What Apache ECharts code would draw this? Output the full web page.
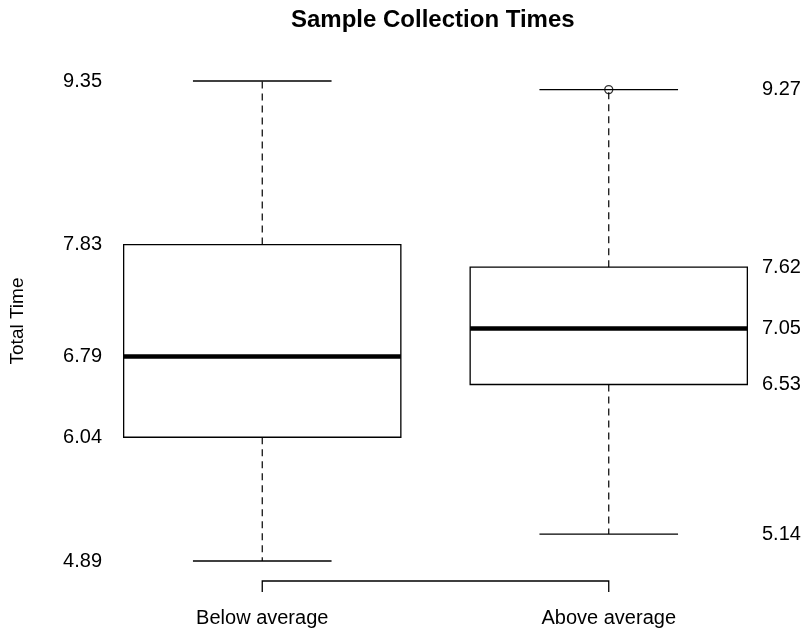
<!DOCTYPE html>
<html>
<head>
<meta charset="utf-8">
<script src="https://cdn.jsdelivr.net/npm/echarts@6/dist/echarts.min.js"></script>
<style>html,body{margin:0;padding:0;background:#fff}#c{width:804px;height:632px}</style>
</head>
<body>
<div id="c"></div>
<script>
var categories = ['Below average', 'Above average'];
var mins = [4.89, 5.14];
var q1s = [6.04, 6.53];
var medians = [6.79, 7.05];
var q3s = [7.83, 7.62];
var maxs = [9.35, 9.27];
var outliers = [[1, 9.27]];
var leftTicks = [4.89, 6.04, 6.79, 7.83, 9.35];
var rightTicks = [5.14, 6.53, 7.05, 7.62, 9.27];

var FONT = "'Liberation Sans', Arial, sans-serif";
var boxData = categories.map(function (c, i) {
  return [i, mins[i], q1s[i], medians[i], q3s[i], maxs[i]];
});

function renderBox(params, api) {
  var i = api.value(0);
  var band = api.size([1, 0])[0];
  var pMin = api.coord([i, api.value(1)]);
  var pQ1 = api.coord([i, api.value(2)]);
  var pMed = api.coord([i, api.value(3)]);
  var pQ3 = api.coord([i, api.value(4)]);
  var pMax = api.coord([i, api.value(5)]);
  var cx = pMed[0];
  var hw = band * 0.4;
  var cw = band * 0.2;
  var solid = { stroke: '#000', lineWidth: 1.3, fill: null };
  var dashed = { stroke: '#000', lineWidth: 1.2, lineDash: [7, 5], fill: null };
  return {
    type: 'group',
    children: [
      { type: 'line', shape: { x1: cx, y1: pQ3[1], x2: cx, y2: pMax[1] }, style: dashed },
      { type: 'line', shape: { x1: cx, y1: pQ1[1], x2: cx, y2: pMin[1] }, style: dashed },
      { type: 'line', shape: { x1: cx - cw, y1: pMax[1], x2: cx + cw, y2: pMax[1] }, style: solid },
      { type: 'line', shape: { x1: cx - cw, y1: pMin[1], x2: cx + cw, y2: pMin[1] }, style: solid },
      { type: 'rect', shape: { x: cx - hw, y: pQ3[1], width: hw * 2, height: pQ1[1] - pQ3[1] },
        style: { stroke: '#000', lineWidth: 1.3, fill: '#fff' } },
      { type: 'line', shape: { x1: cx - hw, y1: pMed[1], x2: cx + hw, y2: pMed[1] },
        style: { stroke: '#000', lineWidth: 4.5 } }
    ]
  };
}

function renderBracket(params, api) {
  var cs = params.coordSys;
  var x0 = api.coord([0, mins[0]])[0];
  var x1 = api.coord([categories.length - 1, mins[0]])[0];
  var yb = cs.y + cs.height + 20;
  return {
    type: 'polyline',
    shape: { points: [[x0, yb + 11], [x0, yb], [x1, yb], [x1, yb + 11]] },
    style: { stroke: '#000', lineWidth: 1.3, fill: null }
  };
}

var chart = echarts.init(document.getElementById('c'));
chart.setOption({
  animation: false,
  backgroundColor: '#fff',
  title: {
    text: 'Sample Collection Times',
    left: 286, top: 3,
    textStyle: { fontFamily: FONT, fontSize: 24, fontWeight: 'bold', color: '#000' }
  },
  grid: { left: 82, right: 22, top: 81, bottom: 71, containLabel: false },
  xAxis: {
    type: 'category',
    data: categories,
    axisLine: { show: false },
    axisTick: { show: false },
    splitLine: { show: false },
    axisLabel: { margin: 47, fontFamily: FONT, fontSize: 20, color: '#000' }
  },
  yAxis: [{
    type: 'value', min: 4.89, max: 9.35, position: 'left', offset: -21,
    name: 'Total Time', nameLocation: 'middle', nameRotate: 90, nameGap: 83,
    nameTextStyle: { fontFamily: FONT, fontSize: 19, color: '#000' },
    axisLine: { show: false }, axisTick: { show: false }, splitLine: { show: false },
    axisLabel: { customValues: leftTicks, margin: 8, fontFamily: FONT, fontSize: 20, color: '#000',
      formatter: function (v) { return v.toFixed(2); } }
  }, {
    type: 'value', min: 4.89, max: 9.35, position: 'right', offset: -28,
    axisLine: { show: false }, axisTick: { show: false }, splitLine: { show: false },
    axisLabel: { customValues: rightTicks, margin: 8, fontFamily: FONT, fontSize: 20, color: '#000',
      formatter: function (v) { return v.toFixed(2); } }
  }],
  series: [{
    type: 'custom',
    renderItem: renderBox,
    data: boxData,
    encode: { x: 0, y: [1, 2, 3, 4, 5] },
    clip: false,
    z: 2
  }, {
    type: 'custom',
    renderItem: renderBracket,
    data: [[0, mins[0]]],
    encode: { x: 0, y: 1 },
    clip: false,
    z: 2
  }, {
    type: 'scatter',
    data: outliers,
    symbol: 'circle',
    symbolSize: 8,
    itemStyle: { color: 'rgba(0,0,0,0)', borderColor: '#000', borderWidth: 1.3 },
    z: 5
  }]
});
</script>
</body>
</html>
